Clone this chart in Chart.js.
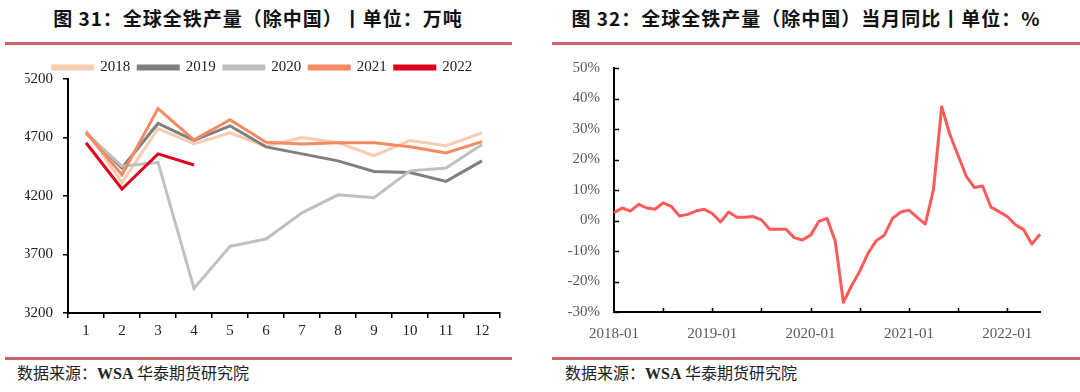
<!DOCTYPE html>
<html><head><meta charset="utf-8">
<script src="https://cdn.jsdelivr.net/npm/chart.js@4.4.0/dist/chart.umd.min.js"></script>
<style>
html,body{margin:0;padding:0;background:#fff;width:1080px;height:392px;overflow:hidden;position:relative;font-family:"Noto Sans CJK SC",sans-serif;}
.title{position:absolute;top:6px;font-size:19px;line-height:24px;letter-spacing:1px;font-weight:700;color:#111;white-space:nowrap;transform:translateX(-50%);}
.rule{position:absolute;height:3px;background:#C96566;}
.src{position:absolute;top:362px;font-size:16px;line-height:20px;color:#222;white-space:nowrap;}
.src b{font-family:"Liberation Serif",serif;font-weight:700;}
.box{position:absolute;}
</style></head>
<body>
<div class="title" style="left:258px">图 31：全球全铁产量（除中国）丨单位：万吨</div>
<div class="title" style="left:806px">图 32：全球全铁产量（除中国）当月同比丨单位：%</div>
<div class="rule" style="left:5px;width:507px;top:42px"></div>
<div class="rule" style="left:552px;width:528px;top:42px"></div>
<div class="rule" style="left:5px;width:507px;top:357px"></div>
<div class="rule" style="left:552px;width:528px;top:357px"></div>
<div class="src" style="left:17px">数据来源：<b>WSA</b> 华泰期货研究院</div>
<div class="src" style="left:565px">数据来源：<b>WSA</b> 华泰期货研究院</div>
<div class="box" style="left:0;top:52px;width:530px;height:290px"><canvas id="c1" width="530" height="290"></canvas></div>
<div class="box" style="left:540px;top:45px;width:540px;height:300px"><canvas id="c2" width="540" height="300"></canvas></div>
<script>
// ---- Chart 1 data: world ex-China pig iron output, 10k tonnes ----
const months = ['1','2','3','4','5','6','7','8','9','10','11','12'];
const y2018 = [4760, 4315, 4775, 4645, 4740, 4625, 4700, 4655, 4545, 4675, 4630, 4740];
const y2019 = [4740, 4440, 4820, 4675, 4800, 4620, 4560, 4500, 4410, 4400, 4325, 4500];
const y2020 = [4735, 4455, 4487, 3410, 3770, 3832, 4056, 4210, 4185, 4415, 4440, 4640];
const y2021 = [4745, 4381, 4947, 4680, 4852, 4660, 4645, 4655, 4655, 4620, 4568, 4665];
const y2022 = [4655, 4260, 4560, 4465];
const seriesNames = ['2018', '2019', '2020', '2021', '2022'];
const yTicks1 = [3200, 3700, 4200, 4700, 5200];

// ---- Chart 2 data: monthly YoY, % ----
const ymLabels = ['2018-01','2018-02','2018-03','2018-04','2018-05','2018-06','2018-07','2018-08','2018-09','2018-10','2018-11','2018-12',
 '2019-01','2019-02','2019-03','2019-04','2019-05','2019-06','2019-07','2019-08','2019-09','2019-10','2019-11','2019-12',
 '2020-01','2020-02','2020-03','2020-04','2020-05','2020-06','2020-07','2020-08','2020-09','2020-10','2020-11','2020-12',
 '2021-01','2021-02','2021-03','2021-04','2021-05','2021-06','2021-07','2021-08','2021-09','2021-10','2021-11','2021-12',
 '2022-01','2022-02','2022-03','2022-04','2022-05'];
const yoy = [2.6, 4.1, 3.1, 5.3, 4.1, 3.7, 5.8, 4.6, 1.5, 2.0, 3.1, 3.7,
 2.3, -0.5, 2.8, 1.1, 1.1, 1.3, 0.2, -2.9, -2.9, -2.9, -5.6, -6.4,
 -4.8, -0.3, 0.7, -6.7, -26.8, -21.4, -16.6, -10.8, -6.6, -4.8, 0.7, 2.8,
 3.4, 1.0, -1.2, 10.2, 37.3, 28.2, 21.3, 14.5, 10.8, 11.3, 4.4, 2.9,
 1.3, -1.4, -3.0, -7.7, -4.5];
const yTicks2 = [-30, -20, -10, 0, 10, 20, 30, 40, 50];

const SERIF = "'Liberation Serif','Times New Roman',serif";
Chart.defaults.font.family = SERIF;
Chart.defaults.animation = false;

const colors1 = ['#F9CBB0', '#7F7F7F', '#C0C0C0', '#F58A62', '#E0001B'];
const data1 = [y2018, y2019, y2020, y2021, y2022];

new Chart(document.getElementById('c1'), {
  type: 'line',
  data: {
    labels: months,
    datasets: data1.map((d, i) => ({
      label: seriesNames[i], data: d, borderColor: colors1[i], backgroundColor: colors1[i],
      borderWidth: 3, pointRadius: 0, tension: 0, fill: false, order: 5 - i
    }))
  },
  options: {
    responsive: false, devicePixelRatio: 1,
    layout: { padding: { left: 25, right: 30, top: 0, bottom: 0 } },
    plugins: {
      tooltip: { enabled: false },
      legend: {
        position: 'top', maxHeight: 27,
        labels: { boxWidth: 40, boxHeight: 3, padding: 8, color: '#222', font: { size: 15, family: SERIF },
          sort: (a, b) => a.datasetIndex - b.datasetIndex }
      }
    },
    scales: {
      x: {
        offset: true,
        grid: { display: true, drawOnChartArea: false, drawTicks: true, tickLength: 5, color: '#000', lineWidth: 1.5, offset: true },
        border: { display: true, color: '#000', width: 2 },
        ticks: { color: '#222', font: { size: 15 }, padding: 4, maxRotation: 0, autoSkip: false },
        afterFit(s) { s.height = 29; }
      },
      y: {
        min: yTicks1[0], max: yTicks1[yTicks1.length - 1],
        afterBuildTicks(s) { s.ticks = yTicks1.map(v => ({ value: v })); },
        grid: { display: true, drawOnChartArea: false, drawTicks: true, tickLength: 5, color: '#000', lineWidth: 1.5 },
        border: { display: true, color: '#000', width: 2 },
        ticks: { color: '#222', font: { size: 15 }, padding: 10, callback: v => String(v) },
        afterFit(s) { s.width = 43; }
      }
    }
  }
});

const innerTicks = {
  id: 'innerTicks',
  afterDraw(chart) {
    const { ctx, chartArea: a } = chart;
    const xs = chart.scales.x, ys = chart.scales.y;
    ctx.save();
    ctx.strokeStyle = '#000'; ctx.lineWidth = 1.5;
    for (let i = 6; i < ymLabels.length; i += 6) {
      const px = Math.round(xs.getPixelForValue(i)) + 0.5;
      ctx.beginPath(); ctx.moveTo(px, a.bottom); ctx.lineTo(px, a.bottom - 4); ctx.stroke();
    }
    yTicks2.forEach(v => {
      const py = Math.round(ys.getPixelForValue(v)) + 0.5;
      ctx.beginPath(); ctx.moveTo(a.left, py); ctx.lineTo(a.left + 5, py); ctx.stroke();
    });
    ctx.restore();
  }
};

new Chart(document.getElementById('c2'), {
  type: 'line',
  data: {
    labels: ymLabels,
    datasets: [{ label: '当月同比', data: yoy, borderColor: '#FF5A5A', borderWidth: 3, pointRadius: 0, tension: 0, borderJoinStyle: 'round', fill: false }]
  },
  options: {
    responsive: false, devicePixelRatio: 1,
    layout: { padding: { left: 0, right: 40, top: 14, bottom: 0 } },
    plugins: { legend: { display: false }, tooltip: { enabled: false } },
    scales: {
      x: {
        offset: false,
        grid: { display: false, drawTicks: false },
        border: { display: true, color: '#000', width: 2 },
        ticks: { autoSkip: false, maxRotation: 0, color: '#595959', font: { size: 15 }, padding: 13,
          callback(v, i) { return i % 12 === 0 ? this.getLabelForValue(v) : ''; } },
        afterFit(s) { s.height = 33; }
      },
      y: {
        min: yTicks2[0], max: yTicks2[yTicks2.length - 1],
        afterBuildTicks(s) { s.ticks = yTicks2.map(v => ({ value: v })); },
        grid: { display: false, drawTicks: false },
        border: { display: true, color: '#000', width: 2 },
        ticks: { color: '#595959', font: { size: 15 }, padding: 14, callback: v => v + '%' },
        afterFit(s) { s.width = 74; }
      }
    }
  },
  plugins: [innerTicks]
});
</script>
</body></html>
